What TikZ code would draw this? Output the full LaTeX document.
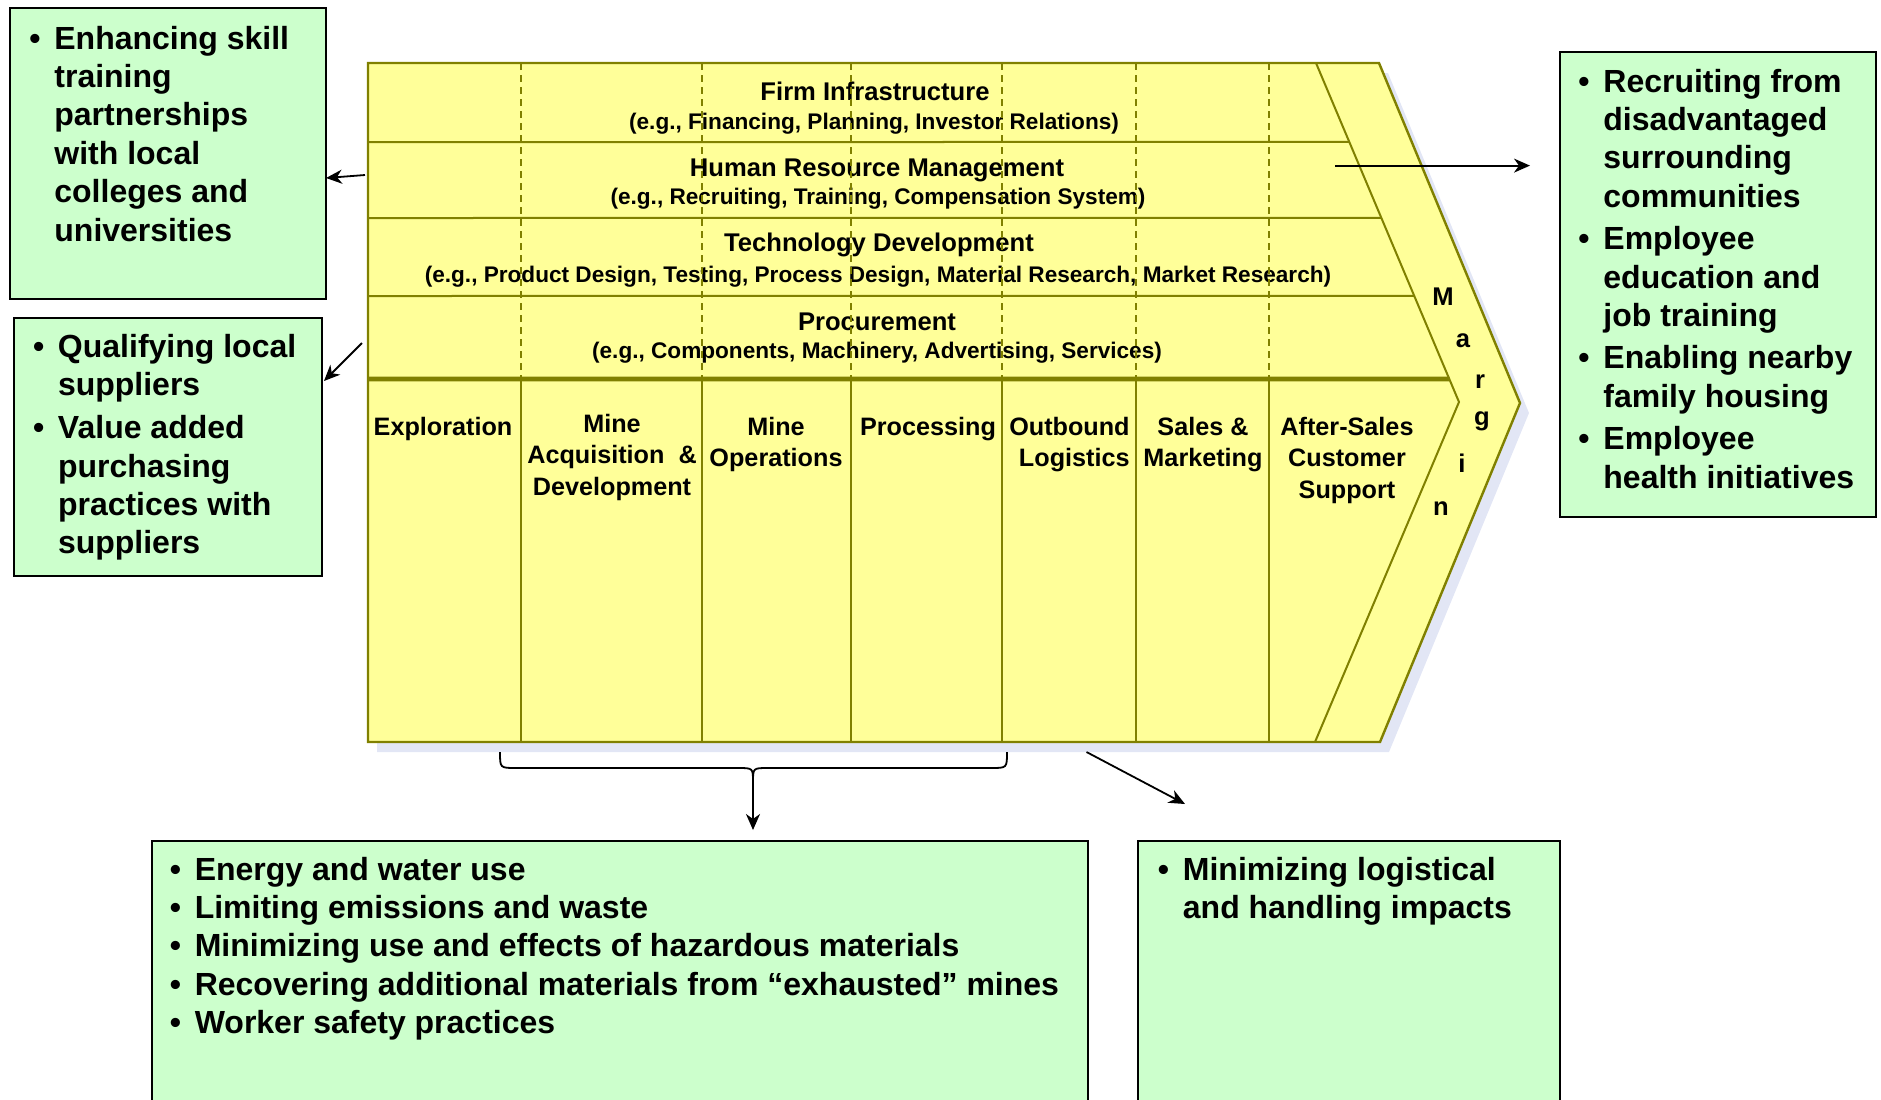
\documentclass[tikz,border=0pt]{standalone}
\usepackage{fontspec}
\setmainfont{Liberation Sans}
\usetikzlibrary{arrows.meta,calc}

\definecolor{chartfill}{RGB}{255,255,153}
\definecolor{chartline}{RGB}{128,128,0}
\definecolor{notefill}{RGB}{204,255,204}
\definecolor{shadowc}{RGB}{226,230,245}

% bullet column of the note boxes
\newcommand{\bul}{\makebox[12.5pt][l]{\textbullet}}

\tikzset{
  notebox/.style={draw=black, line width=1pt, fill=notefill, anchor=north west, inner sep=0pt},
  notetext/.style={anchor=base west, inner sep=0pt, font=\fontsize{16}{19.2}\selectfont\bfseries},
  chartedge/.style={draw=chartline, line width=1.2pt, line join=miter},
  rowline/.style={draw=chartline, line width=1pt},
  colline/.style={draw=chartline, line width=1pt},
  sepline/.style={draw=chartline, line width=2.3pt},
  dashline/.style={draw=chartline, line width=0.8pt, dash pattern=on 3.5pt off 2.5pt},
  supporttitle/.style={anchor=base, inner sep=0pt, font=\fontsize{12.8}{15}\selectfont\bfseries},
  supportsub/.style={anchor=base, inner sep=0pt, font=\fontsize{11.3}{14}\selectfont\bfseries},
  primary/.style={anchor=base, inner sep=0pt, font=\fontsize{12.6}{15.75}\selectfont\bfseries},
  marginletter/.style={inner sep=0pt, font=\fontsize{12.8}{15}\selectfont\bfseries},
  link/.style={draw=black, line width=0.9pt, -{Stealth[length=8pt,width=7pt,inset=2.5pt]}},
}

\begin{document}
\begin{tikzpicture}[x=0.5pt, y=-0.5pt]
\useasboundingbox (0,0) rectangle (1881,1099);
\clip (0,0) rectangle (1881,1099);

% ---------- value chain ----------
\coordinate (vtl) at (368,63);
\coordinate (vtr) at (1379,63);
\coordinate (vtip) at (1520,403);
\coordinate (vbr) at (1380,742);
\coordinate (vbl) at (368,742);
\coordinate (itop) at (1316,63);
\coordinate (itip) at (1459,402);
\coordinate (ibot) at (1315,742);

% drop shadow
\fill[shadowc] ([shift={(9,10)}]vtl) -- ([shift={(9,10)}]vtr) -- ([shift={(9,10)}]vtip)
  -- ([shift={(9,10)}]vbr) -- ([shift={(9,10)}]vbl) -- cycle;
% body
\path[fill=chartfill] (vtl) -- (vtr) -- (vtip) -- (vbr) -- (vbl) -- cycle;

% support activity labels
\node[supporttitle] (firm) at (875,100) {Firm Infrastructure};
\node[supportsub] (firm-eg) at (874,129) {(e.g., Financing, Planning, Investor Relations)};
\node[supporttitle] (hrm) at (877,176) {Human Resource Management};
\node[supportsub] (hrm-eg) at (878,204) {(e.g., Recruiting, Training, Compensation System)};
\node[supporttitle] (tech) at (879,251) {Technology Development};
\node[supportsub] (tech-eg) at (878,282) {(e.g., Product Design, Testing, Process Design, Material Research, Market Research)};
\node[supporttitle] (proc) at (877,330) {Procurement};
\node[supportsub] (proc-eg) at (877,358) {(e.g., Components, Machinery, Advertising, Services)};

% primary activity labels
\node[primary] (explor) at (443,435) {Exploration};
\node[primary] (acq) at (612,432) {\begin{tabular}[t]{@{}c@{}}Mine\\Acquisition \ \&\\Development\end{tabular}};
\node[primary] (ops) at (776,435) {\begin{tabular}[t]{@{}c@{}}Mine\\Operations\end{tabular}};
\node[primary] (procg) at (928,435) {Processing};
\node[primary, anchor=base east] (outb) at (1130,435) {\begin{tabular}[t]{@{}r@{}}Outbound\\Logistics\end{tabular}};
\node[primary] (sales) at (1203,435) {\begin{tabular}[t]{@{}c@{}}Sales \&\\Marketing\end{tabular}};
\node[primary] (after) at (1347,435) {\begin{tabular}[t]{@{}c@{}}After-Sales\\Customer\\Support\end{tabular}};

% margin letters
\node[marginletter] (mg1) at (1443,297) {M};
\node[marginletter] (mg2) at (1463,341) {a};
\node[marginletter] (mg3) at (1480,382) {r};
\node[marginletter] (mg4) at (1482,421) {g};
\node[marginletter] (mg5) at (1462,463) {i};
\node[marginletter] (mg6) at (1441,509) {n};

% grid of the chart
\foreach \xx in {521,702,851,1002,1136,1269}{
  \draw[dashline] (\xx,63) -- (\xx,379);
  \draw[colline] (\xx,379) -- (\xx,742);
}
\draw[rowline] (368,142) -- ($(itop)!0.233!(itip)$);
\draw[rowline] (368,218) -- ($(itop)!0.457!(itip)$);
\draw[rowline] (368,296) -- ($(itop)!0.687!(itip)$);
\draw[sepline] (368,379) -- ($(itop)!0.932!(itip)$);
\draw[colline] (itop) -- (itip) -- (ibot);
\draw[chartedge] (vtl) -- (vtr) -- (vtip) -- (vbr) -- (vbl) -- cycle;

% ---------- note boxes ----------
\node[notebox, minimum width=157.85pt, minimum height=145.2pt] (tlbox) at (9.3,7.3) {};
\node[notebox, minimum width=154.45pt, minimum height=129.15pt] (blbox) at (12.5,316.7) {};
\node[notebox, minimum width=157.95pt, minimum height=232.45pt] (rbox) at (1558.6,50.9) {};
\node[notebox, minimum width=467.65pt, minimum height=140pt] (bmbox) at (151.2,840) {};
\node[notebox, minimum width=210.65pt, minimum height=140pt] (brbox) at (1137.4,840) {};

\node[notetext] (tl-text) at (29,49) {\begin{tabular}[t]{@{}l@{}l@{}}
\bul & Enhancing skill\\ & training\\ & partnerships\\ & with local\\ & colleges and\\ & universities
\end{tabular}};

\node[notetext] (bl-text) at (32.6,357) {\begin{tabular}[t]{@{}l@{}l@{}}
\bul & Qualifying local\\ & suppliers\\[2.4pt]
\bul & Value added\\ & purchasing\\ & practices with\\ & suppliers
\end{tabular}};

\node[notetext] (r-text) at (1578,92) {\begin{tabular}[t]{@{}l@{}l@{}}
\bul & Recruiting from\\ & disadvantaged\\ & surrounding\\ & communities\\[2pt]
\bul & Employee\\ & education and\\ & job training\\[2pt]
\bul & Enabling nearby\\ & family housing\\[2pt]
\bul & Employee\\ & health initiatives
\end{tabular}};

\node[notetext] (bm-text) at (169.4,880) {\begin{tabular}[t]{@{}l@{}l@{}}
\bul & Energy and water use\\
\bul & Limiting emissions and waste\\
\bul & Minimizing use and effects of hazardous materials\\
\bul & Recovering additional materials from “exhausted” mines\\
\bul & Worker safety practices
\end{tabular}};

\node[notetext] (br-text) at (1157.5,880) {\begin{tabular}[t]{@{}l@{}l@{}}
\bul & Minimizing logistical\\ & and handling impacts
\end{tabular}};

% ---------- connectors ----------
\coordinate (hr-out) at (365,175);
\coordinate (tl-in) at (326,178);
\draw[link] (hr-out) -- (tl-in);

\coordinate (proc-out) at (362,343);
\coordinate (bl-in) at (324,381);
\draw[link] (proc-out) -- (bl-in);

\coordinate (hr-right) at (1335,165.6);
\coordinate (r-in) at (1530,165.6);
\draw[link] (hr-right) -- (r-in);

% brace gathering the upstream activities
\coordinate (br-l) at (500,752);
\coordinate (br-m) at (753,782);
\coordinate (br-r) at (1007,752);
\coordinate (bm-in) at (753,830);
\draw[line width=0.9pt] (br-l) .. controls (500,768) .. (516,768) -- (738,768)
  .. controls (753,768) .. (br-m) .. controls (753,768) .. (768,768) -- (991,768)
  .. controls (1007,768) .. (br-r);
\draw[link] (br-m) -- (bm-in);

\coordinate (outb-out) at (1086.5,752);
\coordinate (br-in) at (1185,804);
\draw[link] (outb-out) -- (br-in);

\end{tikzpicture}
\end{document}
